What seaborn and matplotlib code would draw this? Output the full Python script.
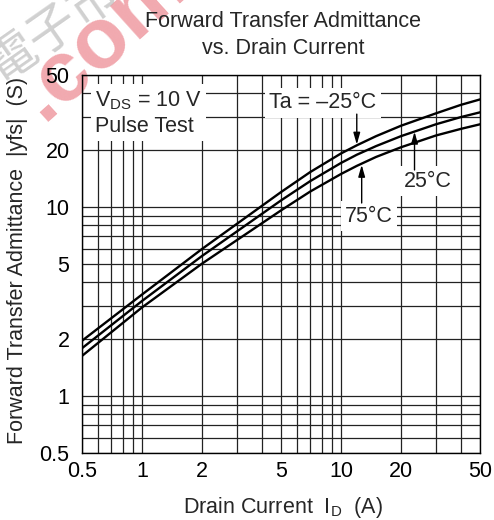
import numpy as np
import pandas as pd
import matplotlib
matplotlib.use("Agg")
import matplotlib.pyplot as plt
import matplotlib.ticker as mticker
import seaborn as sns

# === Values ===
drain_current = [0.5, 1, 2, 5, 7, 10, 12, 15, 20, 30, 40, 50]
yfs_m25 = [1.96, 3.44, 5.99, 12.0, 15.3, 19.2, 21.2, 23.7, 26.9, 31.3, 34.7, 37.1]
yfs_25 = [1.79, 3.18, 5.50, 10.84, 13.7, 17.1, 18.9, 21.0, 23.7, 27.4, 29.9, 31.7]
yfs_75 = [1.63, 2.94, 5.01, 9.60, 12.07, 14.95, 16.5, 18.4, 20.7, 23.9, 25.9, 27.4]
temps = ["-25", "25", "75"]
tick_vals = [0.5, 1, 2, 5, 10, 20, 50]
tick_labels = ["0.5", "1", "2", "5", "10", "20", "50"]

df = pd.DataFrame({
    "I_D": drain_current * 3,
    "yfs": yfs_m25 + yfs_25 + yfs_75,
    "Ta": [t for t in temps for _ in drain_current],
})

sns.set_style("white")
plt.rcParams["font.family"] = ["Liberation Sans", "DejaVu Sans"]
plt.rcParams["mathtext.fontset"] = "custom"
plt.rcParams["mathtext.rm"] = "Liberation Sans"
plt.rcParams["mathtext.it"] = "Liberation Sans"

FS = 15.5

fig = plt.figure(figsize=(4.94, 5.2), dpi=100)
ax = fig.add_axes([0.166, 0.129, 0.806, 0.727])
ax.set_facecolor("none")

# watermark behind the chart
fig.text(0.085, 0.765, ".com.cn", color="#e8707a", alpha=0.6, fontsize=62,
         weight="bold", rotation=42, rotation_mode="anchor", ha="left",
         va="baseline", zorder=-1)
fig.text(0.0, 0.84, "電子市场", color="#aaaaaa", alpha=0.55, fontsize=36,
         rotation=35, rotation_mode="anchor", ha="left", va="baseline",
         family=["Noto Sans CJK TC", "DejaVu Sans"], zorder=-1)

sns.lineplot(data=df, x="I_D", y="yfs", hue="Ta", palette=["black"] * 3,
             linewidth=1.7, legend=False, ax=ax, zorder=3)

ax.set_xscale("log")
ax.set_yscale("log")
ax.set_xlim(0.5, 50)
ax.set_ylim(0.5, 50)
ax.set_xticks(tick_vals)
ax.set_xticklabels(tick_labels)
ax.set_yticks(tick_vals)
ax.set_yticklabels(tick_labels)
ax.xaxis.set_minor_formatter(mticker.NullFormatter())
ax.yaxis.set_minor_formatter(mticker.NullFormatter())
ax.tick_params(which="both", length=0, labelsize=FS, colors="black")
ax.tick_params(axis="y", pad=9)
ax.tick_params(axis="x", pad=6)
ax.grid(which="both", color="#222222", linewidth=0.9)
for sp in ax.spines.values():
    sp.set_color("black")
    sp.set_linewidth(1.0)
    sp.set_zorder(4)

ax.set_xlabel("Drain Current  I$_\\mathregular{D}$  (A)", fontsize=FS)
ax.set_ylabel("Forward Transfer Admittance  |yfs|  (S)", fontsize=FS)
ax.xaxis.set_label_coords(0.505, -0.112)
ax.yaxis.set_label_coords(-0.135, 0.51)

fig.text(0.573, 0.978, "Forward Transfer Admittance\nvs. Drain Current",
         ha="center", va="top", fontsize=FS, linespacing=1.35)

box = dict(facecolor="white", edgecolor="none", boxstyle="square,pad=0.2")
ax.text(0.033, 0.962, "V$_\\mathregular{DS}$ = 10 V\nPulse Test", transform=ax.transAxes,
        ha="left", va="top", fontsize=FS, linespacing=1.25, bbox=box, zorder=5)
ax.text(8.1, 35.5, "Ta = –25°C", ha="center", va="center", fontsize=FS,
        bbox=box, zorder=5)
ax.text(27.4, 13.7, "25°C", ha="center", va="center", fontsize=FS,
        bbox=box, zorder=5)
ax.text(13.8, 8.95, "75°C", ha="center", va="center", fontsize=FS,
        bbox=box, zorder=5)

arrow = dict(arrowstyle="-|>,head_length=0.7,head_width=0.2", color="black",
             lw=1.0, shrinkA=0, shrinkB=0)
ax.annotate("", xy=(12.0, 21.4), xytext=(12.0, 31.0), arrowprops=arrow, zorder=6)
ax.annotate("", xy=(23.4, 25.0), xytext=(23.4, 15.7), arrowprops=arrow, zorder=6)
ax.annotate("", xy=(12.7, 16.7), xytext=(12.7, 10.5), arrowprops=arrow, zorder=6)

fig.savefig("out.png", dpi=100)
